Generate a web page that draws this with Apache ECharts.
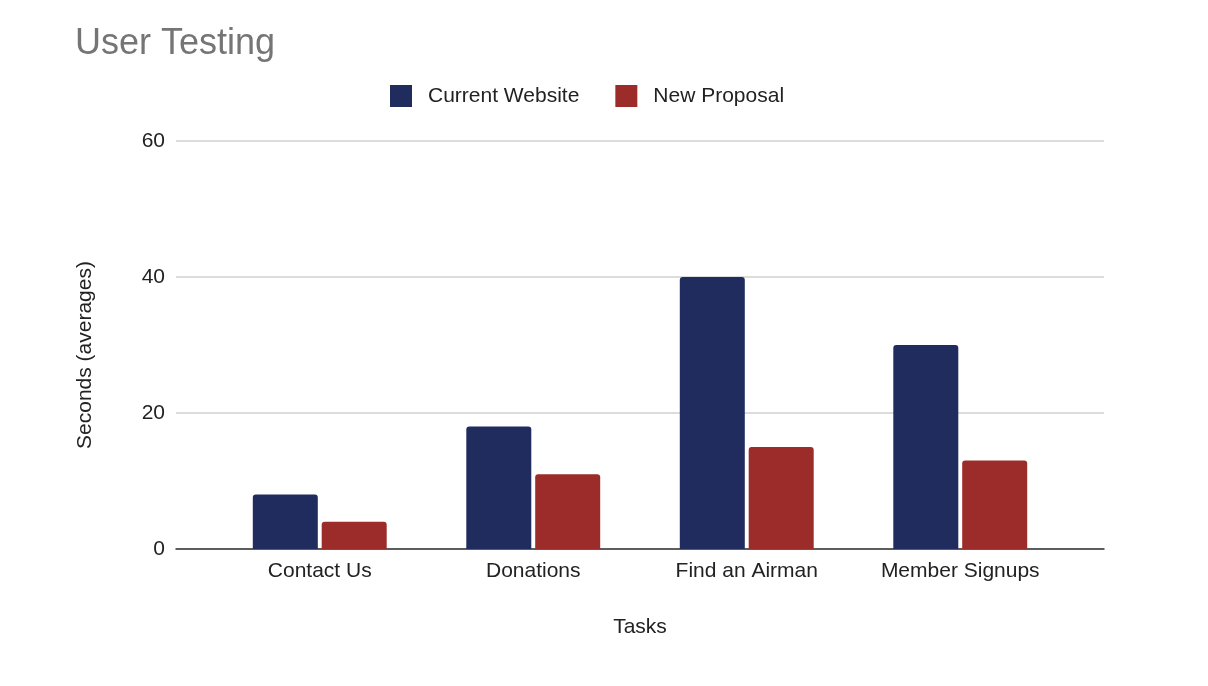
<!DOCTYPE html>
<html>
<head>
<meta charset="utf-8">
<script src="https://cdn.jsdelivr.net/npm/echarts@6/dist/echarts.min.js"></script>
<style>
html,body{margin:0;padding:0;background:#fff;}
#chart{width:1208px;height:686px;}
</style>
</head>
<body>
<div id="chart"></div>
<script>
var categories = ['Contact Us', 'Donations', 'Find an Airman', 'Member Signups'];
var currentWebsite = [8, 18, 40, 30];
var newProposal = [4, 11, 15, 13];
var yTicks = { min: 0, max: 60, interval: 20 };

var FONT = "'Liberation Sans', Arial, sans-serif";
var chart = echarts.init(document.getElementById('chart'));
chart.setOption({
  backgroundColor: '#ffffff',
  animation: false,
  title: {
    text: 'User Testing',
    left: 70,
    top: 21,
    textStyle: { fontFamily: FONT, fontSize: 36, fontWeight: 'normal', color: '#757575' }
  },
  legend: {
    left: 385,
    top: 80,
    itemWidth: 22,
    itemHeight: 22,
    itemGap: 36,
    icon: 'rect',
    textStyle: { fontFamily: FONT, fontSize: 21, color: '#222222', padding: [0, 0, 0, 11] },
    data: ['Current Website', 'New Proposal']
  },
  grid: [
    { left: 176, right: 104, top: 141, height: 408 },
    { left: 213, right: 141, top: 141, height: 408 }
  ],
  xAxis: [
    {
      gridIndex: 0, type: 'value', min: 0, max: 1,
      axisLine: { show: true, onZero: false, lineStyle: { color: '#333333', width: 1.5 } },
      axisTick: { show: false }, axisLabel: { show: false }, splitLine: { show: false }
    },
    {
      gridIndex: 1, type: 'category', data: categories,
      axisLine: { show: false }, axisTick: { show: false },
      axisLabel: { fontFamily: FONT, fontSize: 21, color: '#222222', margin: 12 },
      name: 'Tasks', nameLocation: 'middle', nameGap: 68,
      nameTextStyle: { fontFamily: FONT, fontSize: 21, color: '#222222' }
    }
  ],
  yAxis: [
    {
      gridIndex: 0, type: 'value', min: yTicks.min, max: yTicks.max, interval: yTicks.interval,
      axisLine: { show: false }, axisTick: { show: false },
      axisLabel: { fontFamily: FONT, fontSize: 21, color: '#222222', margin: 11 },
      splitLine: { lineStyle: { color: '#d0d0d0', width: 1.5 } },
      name: 'Seconds (averages)', nameLocation: 'middle', nameGap: 80,
      nameTextStyle: { fontFamily: FONT, fontSize: 21, color: '#222222', padding: [0, 20, 0, 0] }
    },
    {
      gridIndex: 1, type: 'value', min: yTicks.min, max: yTicks.max, interval: yTicks.interval,
      show: false, splitLine: { show: false }
    }
  ],
  series: [
    {
      name: 'Current Website', type: 'bar', xAxisIndex: 1, yAxisIndex: 1,
      data: currentWebsite, barWidth: 65, barGap: '6%',
      itemStyle: { color: '#202c5e', borderRadius: [3, 3, 0, 0] }
    },
    {
      name: 'New Proposal', type: 'bar', xAxisIndex: 1, yAxisIndex: 1,
      data: newProposal, barWidth: 65, barGap: '6%',
      itemStyle: { color: '#9c2c29', borderRadius: [3, 3, 0, 0] }
    }
  ]
});
</script>
</body>
</html>
